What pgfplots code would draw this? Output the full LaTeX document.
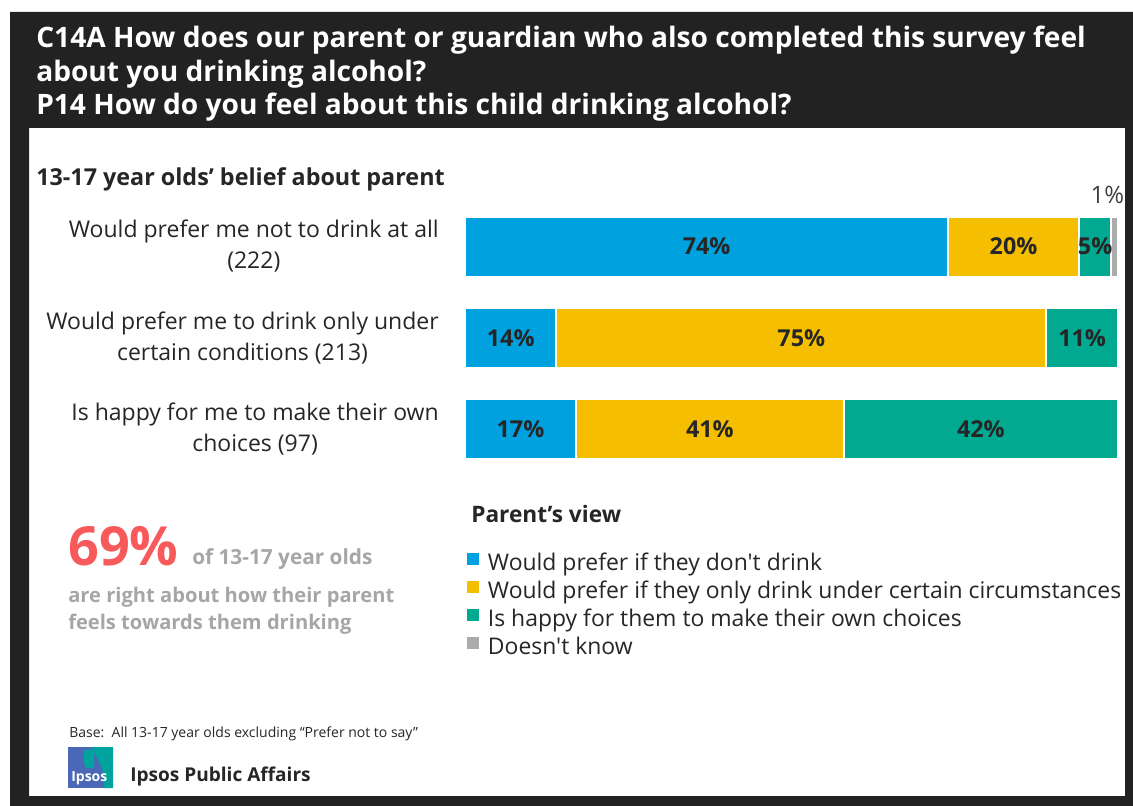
\documentclass[border=0pt]{standalone}
\usepackage{fontspec}
\setmainfont{Open Sans}[Ligatures=TeXOff]
\usepackage{pgfplots}
\pgfplotsset{compat=1.18}
\usepackage{pgfplotstable}

\definecolor{cblue}{HTML}{00A1DF}
\definecolor{cyellow}{HTML}{F5BE00}
\definecolor{cteal}{HTML}{00A98F}
\definecolor{cgray}{HTML}{ABABAB}
\definecolor{cred}{HTML}{F85A5C}
\definecolor{ctextgray}{HTML}{A6A6A6}
\definecolor{cdark}{HTML}{222222}
\definecolor{ctext}{HTML}{262626}
\definecolor{ctextb}{HTML}{404040}
\definecolor{logoblue}{HTML}{4A68B5}
\definecolor{logoteal}{HTML}{00A39E}

\newcommand\fs[2]{\fontsize{#1}{#2}\selectfont}

\pgfplotstableread{
y a b c
3 74 20 5
2 14 75 11
1 17 41 42
}\data

\begin{document}
\begin{tikzpicture}
\begin{scope}[x=0.75pt,y=-0.75pt]
\fill[white] (0,0) rectangle (1133,806);
\end{scope}

\begin{axis}[
  at={(348.75pt,-356.25pt)}, anchor=south west,
  scale only axis, width=489.75pt, height=205.65pt,
  xbar stacked, bar width=45pt,
  xmin=0, xmax=100, ymin=0.5, ymax=3.5,
  /pgf/number format/assume math mode=true,
  axis line style={draw=none},
  xtick=\empty, ytick={1,2,3},
  yticklabels={{Is happy for me to make their own\\choices (97)},
               {Would prefer me to drink only under\\certain conditions (213)},
               {Would prefer me not to drink at all\\(222)}},
  major tick length=0pt,
  yticklabel style={align=center, font=\fs{17.25pt}{23.25pt}, text=ctext, inner sep=0pt, xshift=-19.5pt},
  clip=false,
  every axis plot/.append style={draw=white, line width=1.5pt},
  legend image code/.code={\fill[#1,draw=none] (0pt,0pt) rectangle (9pt,9pt);},
  legend cell align=left,
  legend style={at={(axis description cs:0.003,-0.2843)}, anchor=north west,
    draw=none, fill=none, inner sep=0pt, outer sep=0pt,
    font=\fs{17.2pt}{20pt}, text=ctext, row sep=4pt, column sep=6.75pt,
    nodes={inner sep=0pt, text height=12pt, text depth=4pt}},
]
\addplot[fill=cblue, visualization depends on=rawx\as\segw,
  nodes near coords={\pgfmathprintnumber{\segw}\%}, nodes near coords align=center,
  every node near coord/.append style={font=\fs{17.5pt}{20pt}\bfseries, text=ctext, inner sep=0pt}]
  table[x=a,y=y]{\data};
\addplot[fill=cyellow, visualization depends on=rawx\as\segw,
  nodes near coords={\pgfmathprintnumber{\segw}\%}, nodes near coords align=center,
  every node near coord/.append style={font=\fs{17.5pt}{20pt}\bfseries, text=ctext, inner sep=0pt}]
  table[x=b,y=y]{\data};
\addplot[fill=cteal, visualization depends on=rawx\as\segw,
  nodes near coords={\pgfmathprintnumber{\segw}\%}, nodes near coords align=center,
  every node near coord/.append style={font=\fs{17.5pt}{20pt}\bfseries, text=ctext, inner sep=0pt}]
  table[x=c,y=y]{\data};
\addplot[fill=cgray, point meta=explicit,
  nodes near coords={\pgfmathprintnumber{\pgfplotspointmeta}\%},
  nodes near coords align=center,
  every node near coord/.append style={anchor=base west, xshift=-18.75pt, yshift=31.9pt,
    font=\fs{18pt}{20pt}, text=ctextb, inner sep=0pt}]
  coordinates {(1,3) [1]};
\legend{Would prefer if they don't drink,
        Would prefer if they only drink under certain circumstances,
        Is happy for them to make their own choices,
        Doesn't know}
\end{axis}

\begin{scope}[x=0.75pt,y=-0.75pt]
\node[anchor=base west, font=\fs{17.5pt}{21pt}\bfseries, text=ctext, inner sep=0pt] at (36,186) {13-17 year olds’ belief about parent};
\node[anchor=base west, font=\fs{17pt}{20pt}\bfseries, text=ctext, inner sep=0pt] at (471,522) {Parent’s view};
\node[anchor=base west, font=\fs{40.5pt}{45pt}\bfseries, text=cred, inner sep=0pt] at (68,565) {69\%};
\node[anchor=base west, font=\fs{15.6pt}{19pt}\bfseries, text=ctextgray, inner sep=0pt] at (192,564) {of 13-17 year olds};
\node[anchor=base west, font=\fs{15.1pt}{19pt}\bfseries, text=ctextgray, inner sep=0pt] at (68,602.5) {are right about how their parent};
\node[anchor=base west, font=\fs{15.1pt}{19pt}\bfseries, text=ctextgray, inner sep=0pt] at (68,629.5) {feels towards them drinking};
\node[anchor=base west, font=\fs{10.5pt}{12pt}, text=ctext, inner sep=0pt] at (69,737) {Base:\ \ All 13-17 year olds excluding “Prefer not to say”};
% logo
\fill[logoblue] (68,747) rectangle (113,788);
\fill[logoteal] (91,747) -- (113,747) -- (113,788) -- (103,788) .. controls (107,772) and (97,758) .. (91,747) -- cycle;
\fill[logoteal] (84,752) .. controls (84,748) and (94,748) .. (94,754) -- (94,768) -- (86,768) .. controls (83,763) and (84,757) .. (84,752) -- cycle;
\node[anchor=base west, font=\fs{10.5pt}{12pt}\bfseries, text=white, inner sep=0pt] at (71,781) {Ipsos};
\node[anchor=base west, font=\fs{14.3pt}{18pt}\bfseries, text=ctext, inner sep=0pt] at (130,781.5) {Ipsos Public Affairs};
% frame
\fill[cdark, even odd rule] (10,12) rectangle (1133,806) (29,128) rectangle (1125,796);
% title
\node[anchor=base west, font=\fs{21.1pt}{26pt}\bfseries, text=white, inner sep=0pt] at (36,47.5) {C14A How does our parent or guardian who also completed this survey feel};
\node[anchor=base west, font=\fs{21.1pt}{26pt}\bfseries, text=white, inner sep=0pt] at (36,81.5) {about you drinking alcohol?};
\node[anchor=base west, font=\fs{21.1pt}{26pt}\bfseries, text=white, inner sep=0pt] at (36,115) {P14 How do you feel about this child drinking alcohol?};
\path[use as bounding box] (0,0) rectangle (1133,806);
\end{scope}
\end{tikzpicture}
\end{document}
